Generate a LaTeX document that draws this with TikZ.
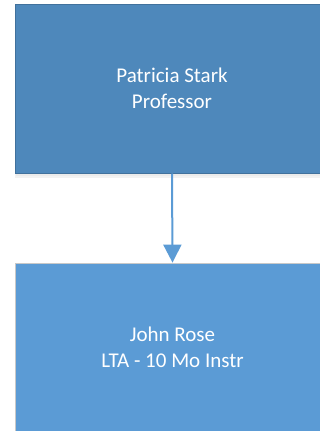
\documentclass[tikz,border=0pt]{standalone}
\usepackage{fontspec}
\setmainfont{Carlito}
\usetikzlibrary{arrows.meta}
\definecolor{topfill}{HTML}{4E88BB}
\definecolor{topdraw}{HTML}{41719C}
\definecolor{botfill}{HTML}{5B9BD5}
\definecolor{botdraw}{HTML}{C8C8C8}
\definecolor{arrowc}{HTML}{5B9BD5}
\tikzset{
  orgbox/.style={rectangle, minimum width=314pt, minimum height=169pt, inner sep=0pt,
    text=white, align=center, font=\fontsize{21pt}{26.5pt}\selectfont},
  topbox/.style={orgbox, fill=topfill, draw=topdraw, line width=1pt},
  botbox/.style={orgbox, fill=botfill, draw=botdraw, line width=0.8pt},
  link/.style={draw=arrowc, line width=2pt, -{Triangle[length=18pt,width=18pt]}}
}
\begin{document}
\begin{tikzpicture}[x=1pt,y=1pt]
\useasboundingbox (0,0) rectangle (320,-431);
\clip (0,0) rectangle (320,-431);
\fill[black!5] (15,-6) rectangle (332,-178);
\fill[black!8] (16,-6) rectangle (331,-176);
\node[topbox] (a) at (172,-88.5) {Patricia Stark\\Professor};
\node[botbox] (b) at (172.5,-347.5) {John Rose\\LTA - 10 Mo Instr};
\draw[link] (a.south) -- (b.north);
\end{tikzpicture}
\end{document}
